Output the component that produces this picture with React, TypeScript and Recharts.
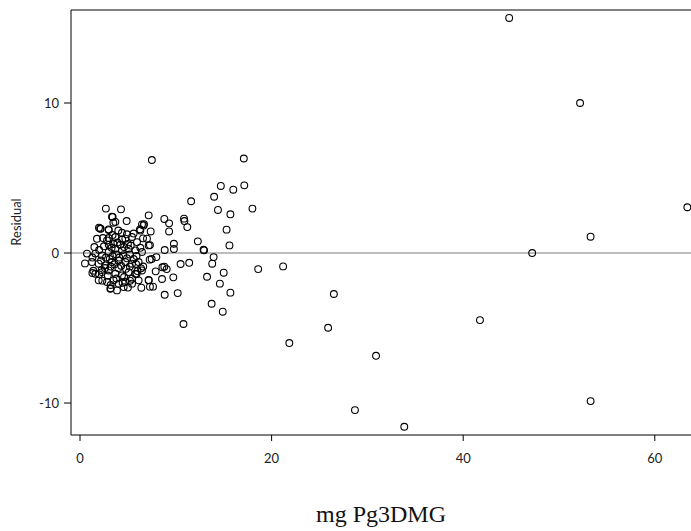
import { ScatterChart, Scatter, XAxis, YAxis, ReferenceLine, Label } from "recharts";

// puntos del nucleo denso (mg, residuo)
const nucleo: [number, number][] = [
  [3.41, 2.4], [3.69, 2.07], [2.16, 1.62], [2.99, 1.58], [1.77, 0.95], [2.82, 0.84],
  [3.69, 1.07], [4.38, 1.35], [4.73, 0.96], [5.43, 1.07], [5.95, 0.73], [6.64, 1.84],
  [6.3, 1.5], [6.99, 0.96], [7.17, 0.51], [0.73, -0.04], [1.6, -0.04], [2.3, -0.16],
  [2.99, 0.07], [3.69, 0.29], [4.38, 0.18], [5.08, 0.29], [5.78, 0.18], [6.47, 0.07],
  [1.25, -0.6], [1.95, -0.71], [2.64, -0.82], [3.34, -0.6], [4.04, -0.49], [4.73, -0.6],
  [5.43, -0.71], [6.12, -0.6], [1.6, -1.38], [2.3, -1.27], [2.99, -1.16], [3.69, -1.38],
  [4.38, -1.49], [5.08, -1.27], [5.78, -1.38], [6.47, -1.16], [1.95, -1.82], [2.82, -1.93],
  [3.51, -1.82], [4.04, -2.04], [4.73, -1.93], [5.43, -1.71], [6.12, -1.82], [7.17, -1.82],
  [3.17, -2.38], [3.86, -2.49], [4.56, -2.27], [5.43, -2.04],
  [2.5, 0.45], [3.0, 0.55], [3.3, 0.35], [3.5, 0.6], [3.9, 0.7], [4.2, 0.55], [4.6, 0.4],
  [5.0, 0.6], [5.3, 0.5], [2.7, -0.3], [3.1, -0.4], [3.4, -0.2], [3.8, -0.1], [4.1, -0.3],
  [4.5, -0.15], [4.9, -0.35], [5.2, -0.1], [5.6, -0.4], [2.6, -1.0], [3.2, -0.9], [3.6, -0.75],
  [4.0, -1.0], [4.3, -0.85], [4.8, -1.05], [5.2, -0.9], [3.0, 1.0], [3.4, 1.2], [4.0, 1.5],
  [4.4, 0.9], [4.9, 1.25], [5.6, 1.3], [2.4, 1.0], [3.8, -1.7], [2.9, -1.5], [4.6, -1.6],
  [5.0, -2.3], [6.0, -1.2], [6.6, -0.9], [5.9, -0.2], [6.3, 0.35], [2.0, 0.2], [1.5, 0.4],
  [1.3, -0.3], [2.2, -0.5],
  [0.52, -0.69], [1.39, -1.18], [2.26, -1.13], [1.29, -1.33], [2.0, -1.42], [2.33, -1.84],
  [3.2, -2.35], [3.2, -2.13], [4.45, -1.98], [5.22, -1.84], [5.9, -1.4], [6.37, -1.02],
  [5.85, -0.73], [2.7, 2.96], [4.28, 2.91], [3.34, 2.42], [3.48, 2.02], [4.87, 2.13],
  [2.1, 1.64], [3.0, 1.53], [1.98, 1.69],
];

// puntos intermedios
const medios: [number, number][] = [
  [7.17, 2.51], [6.47, 1.91], [6.68, 1.93], [6.26, 1.58], [7.38, 1.44], [6.58, 0.98],
  [7.3, 0.53], [8.8, 2.27], [9.3, 1.98], [9.3, 1.44], [10.86, 2.29], [10.9, 2.13],
  [11.2, 1.73], [11.6, 3.45], [9.8, 0.62], [9.8, 0.27], [8.84, 0.2], [12.3, 0.78],
  [12.9, 0.22], [12.95, 0.18], [13.95, -0.27], [13.8, -0.71], [11.4, -0.65], [10.5, -0.73],
  [7.97, -0.27], [7.27, -0.44], [7.48, -0.4], [8.8, -0.91], [9.05, -1.07], [8.6, -0.95],
  [7.9, -1.22], [9.74, -1.62], [8.56, -1.73], [7.17, -1.8], [7.62, -2.24], [6.4, -2.31],
  [7.3, -2.24], [8.84, -2.78], [10.2, -2.67], [13.26, -1.58], [14.6, -2.04], [15.0, -1.31],
  [15.7, -2.64], [13.74, -3.38], [14.9, -3.91], [18.6, -1.07], [21.2, -0.89], [10.8, -4.73],
  [7.5, 6.2], [17.1, 6.3], [14.7, 4.47], [16.0, 4.22], [17.15, 4.51], [14.0, 3.75],
  [14.4, 2.87], [15.7, 2.58], [18.0, 2.96], [15.3, 1.56], [15.6, 0.51],
];

// puntos alejados
const alejados: [number, number][] = [
  [21.85, -6.0], [25.9, -4.98], [26.5, -2.73], [30.9, -6.85], [28.7, -10.47], [33.85, -11.58],
  [41.75, -4.47], [47.2, 0.0], [53.3, 1.09], [63.4, 3.05], [52.2, 10.0], [44.8, 15.67],
  [53.3, -9.87],
];

const ticksX = [0, 20, 40, 60];
const ticksY = [-10, 0, 10];

const datos = [...nucleo, ...medios, ...alejados].map(([mg, residuo]) => ({ mg, residuo }));

const fuente = "Lato, 'Open Sans', sans-serif";

const Circulo = (props: any) => (
  <circle cx={props.cx} cy={props.cy} r={3.4} fill="none" stroke="#000" strokeWidth={1.1} />
);

export default function App() {
  return (
    <div style={{ position: "absolute", left: 0, top: 0, background: "#fff" }}>
      <ScatterChart width={691} height={531} margin={{ top: 10, right: 0, bottom: 66, left: 0 }}>
        <XAxis
          type="number"
          dataKey="mg"
          domain={[-0.94, 63.78]}
          allowDataOverflow
          ticks={ticksX}
          height={30}
          tickSize={6}
          tickMargin={13}
          stroke="#000"
          tick={{ fill: "#222", fontSize: 13, fontFamily: fuente }}
        >
          <Label
            content={() => (
              <text x={381} y={522} textAnchor="middle" fontFamily="'Liberation Serif', serif" fontSize={24} fill="#111">
                mg Pg3DMG
              </text>
            )}
          />
        </XAxis>
        <YAxis
          type="number"
          dataKey="residuo"
          domain={[-12.13, 16.2]}
          allowDataOverflow
          ticks={ticksY}
          width={71}
          tickSize={7}
          tickMargin={5}
          stroke="#000"
          tick={{ fill: "#222", fontSize: 13, fontFamily: fuente }}
        >
          <Label
            content={() => (
              <text x={21} y={222} textAnchor="middle" fontFamily={fuente} fontSize={13} fill="#222" transform="rotate(-90 21 222)">
                Residual
              </text>
            )}
          />
        </YAxis>
        <ReferenceLine y={16.2} stroke="#000" strokeWidth={1.2} />
        <ReferenceLine y={0} stroke="#a6a6a6" strokeWidth={1.5} />
        <Scatter data={datos} shape={Circulo} isAnimationActive={false} />
      </ScatterChart>
    </div>
  );
}
